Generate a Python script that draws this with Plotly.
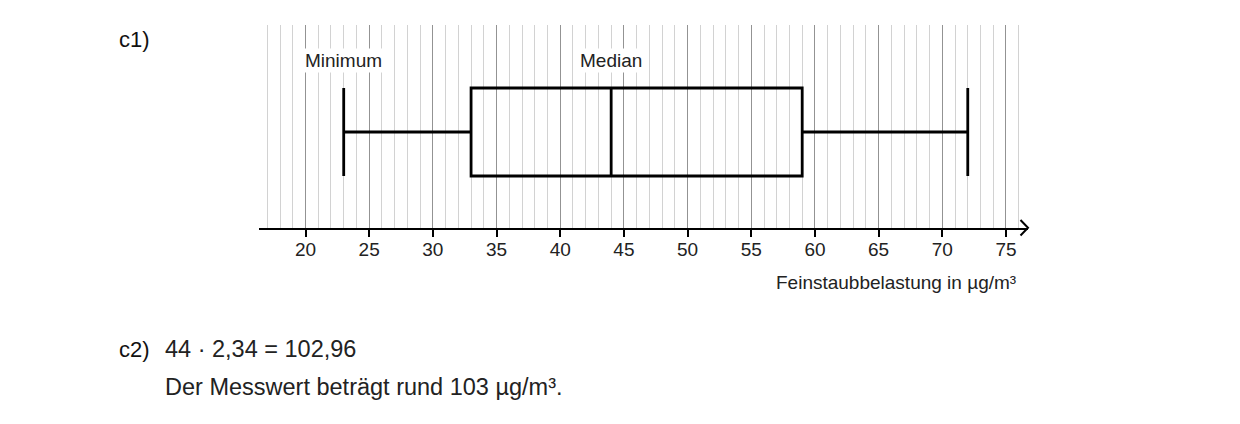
import plotly.graph_objects as go

# ---- data ----
stat_names = ["Minimum", "1. Quartil", "Median", "3. Quartil", "Maximum"]
stat_values = [23, 33, 44, 59, 72]
label_names = ["Minimum", "Median"]
label_values = [23, 44]
tick_values = [20, 25, 30, 35, 40, 45, 50, 55, 60, 65, 70, 75]
tick_labels = ["20", "25", "30", "35", "40", "45", "50", "55", "60", "65", "70", "75"]
x_title = "Feinstaubbelastung in µg/m³"
part1_label = "c1)"
part2_label = "c2)"
part2_line1 = "44 · 2,34 = 102,96"
part2_line2 = "Der Messwert beträgt rund 103 µg/m³."

# page body has an 8px margin: figure is placed at (8, 8)
OFF = 8
W, H = 1240 - OFF, 424 - OFF
FONT = "Liberation Sans, Arial, Helvetica, sans-serif"

def px(xp):
    return (xp - OFF) / W

def py(yp):
    return 1 - (yp - OFF) / H

# axis geometry (pixel based layout, page coordinates)
x_left_px, x_right_px = 259, 1028
x0_px, unit_px = 305.5, 12.736
xr = [20 + (x_left_px - x0_px) / unit_px, 20 + (x_right_px - x0_px) / unit_px]
y_top_px, y_axis_px = 25, 228

mn, q1, med, q3, mx = stat_values

fig = go.Figure()
fig.add_trace(go.Box(
    y=[0.473], q1=[q1], median=[med], q3=[q3],
    lowerfence=[mn], upperfence=[mx],
    orientation="h", width=0.4335, whiskerwidth=1,
    boxpoints=False,
    line=dict(color="black", width=2.8),
    fillcolor="rgba(0,0,0,0)",
    hoverinfo="skip", showlegend=False,
))

fig.update_layout(
    width=W, height=H,
    margin=dict(l=0, r=0, t=0, b=0),
    paper_bgcolor="white", plot_bgcolor="white",
    font=dict(family=FONT, color="#222"),
    showlegend=False,
    xaxis=dict(
        domain=[px(x_left_px), px(x_right_px)],
        range=xr,
        tickmode="array", tickvals=tick_values, ticktext=tick_labels,
        showgrid=True, gridcolor="#939393", gridwidth=1,
        minor=dict(dtick=1, tick0=0, showgrid=True, gridcolor="#d2d2d2", gridwidth=1, ticks=""),
        ticks="outside", ticklen=7, tickwidth=2, tickcolor="black",
        ticklabelstandoff=-4,
        tickfont=dict(size=19, color="#222", family=FONT),
        showline=True, linecolor="black", linewidth=2,
        zeroline=False, fixedrange=True,
    ),
    yaxis=dict(
        domain=[py(y_axis_px), py(y_top_px)],
        range=[0, 1],
        showgrid=False, zeroline=False, showline=False,
        showticklabels=False, ticks="", fixedrange=True,
    ),
)

# arrow head at end of x-axis
fig.add_shape(
    type="path", xref="paper", yref="paper",
    path=f"M {px(1020.5)} {py(220)} L {px(1028)} {py(227.8)} L {px(1020.5)} {py(235.5)}",
    line=dict(color="black", width=2),
)

# labels above box plot
for name, val in zip(label_names, label_values):
    fig.add_annotation(
        x=val, xref="x", y=py(60), yref="paper",
        text=name, showarrow=False, xanchor="center", yanchor="middle",
        font=dict(size=19, color="#222", family=FONT),
        bgcolor="white", borderpad=1,
    )

# axis title
fig.add_annotation(
    x=px(1018), xref="paper", y=py(282), yref="paper",
    text=x_title, showarrow=False, xanchor="right", yanchor="middle",
    font=dict(size=19, color="#222", family=FONT),
)

# part labels and text
fig.add_annotation(x=px(117), xref="paper", y=py(40), yref="paper",
                   text=part1_label, showarrow=False, xanchor="left", yanchor="middle",
                   font=dict(size=22, color="#111", family=FONT))
fig.add_annotation(x=px(117), xref="paper", y=py(349), yref="paper",
                   text=part2_label, showarrow=False, xanchor="left", yanchor="middle",
                   font=dict(size=22, color="#111", family=FONT))
fig.add_annotation(x=px(163), xref="paper", y=py(349), yref="paper",
                   text=part2_line1, showarrow=False, xanchor="left", yanchor="middle",
                   font=dict(size=23.5, color="#222", family=FONT))
fig.add_annotation(x=px(163), xref="paper", y=py(387), yref="paper",
                   text=part2_line2, showarrow=False, xanchor="left", yanchor="middle",
                   font=dict(size=23.5, color="#222", family=FONT))

fig.write_html("out.html", config={"displayModeBar": False})
